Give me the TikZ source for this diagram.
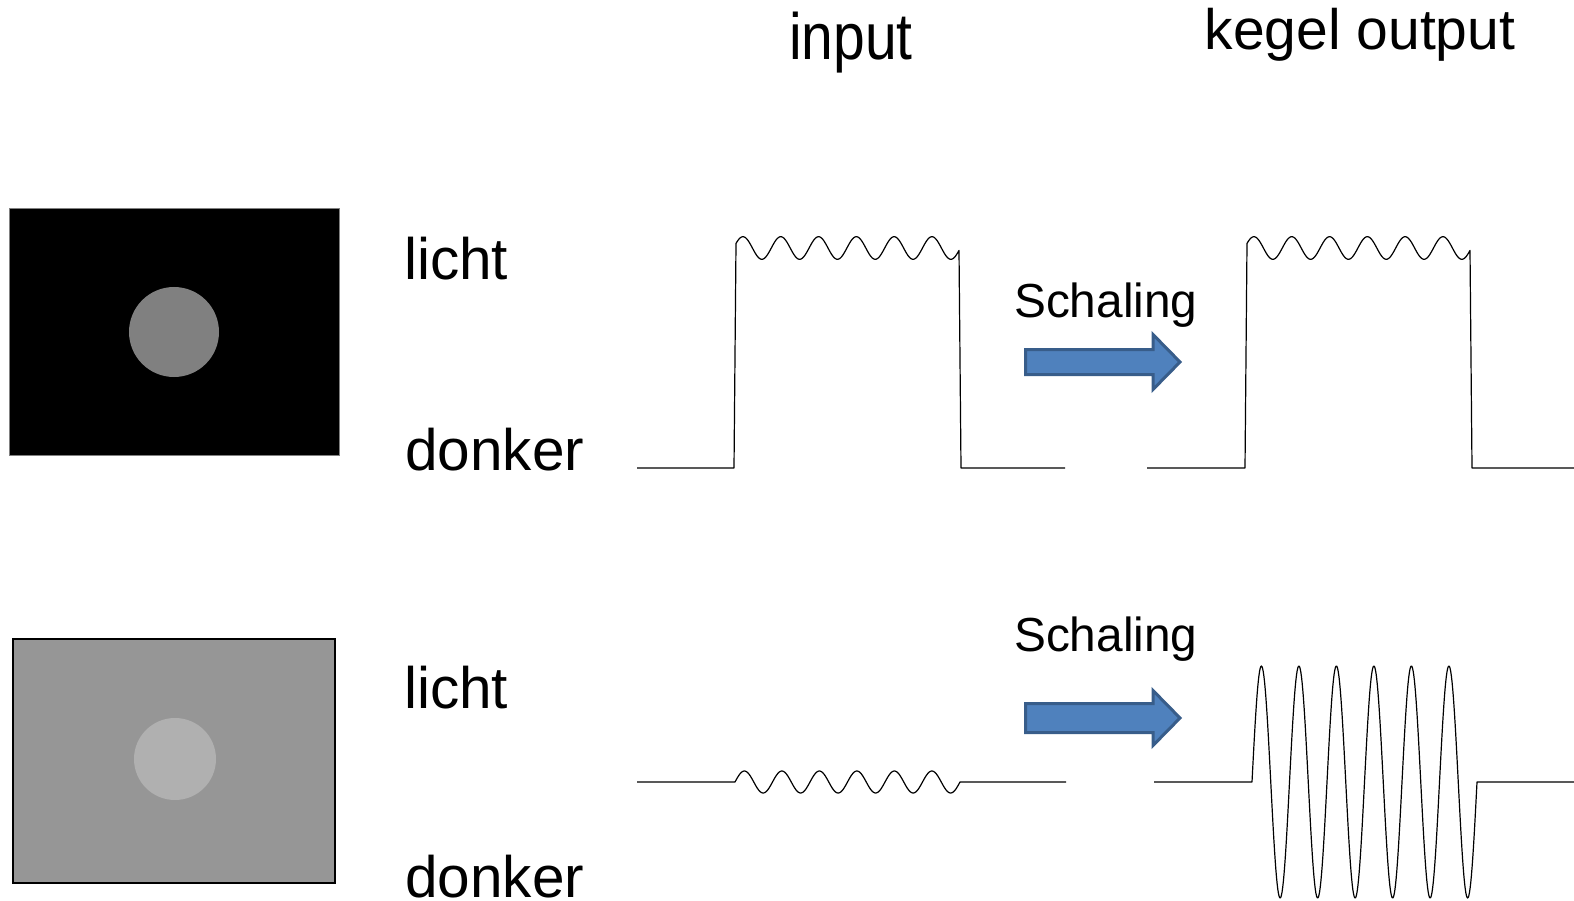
\documentclass[tikz,border=0pt]{standalone}
\usepackage{graphicx}
\usepackage{fontspec}
\setmainfont{Liberation Sans}
\definecolor{arrowfill}{HTML}{4F81BD}
\definecolor{arrowline}{HTML}{385D8A}
\definecolor{darkcircle}{HTML}{808080}
\definecolor{greybg}{HTML}{969696}
\definecolor{lightcircle}{HTML}{B0B0B0}
\begin{document}
\begin{tikzpicture}[x=1pt,y=-1pt,
  lbl/.style={inner sep=0pt, font=\fontsize{58.5}{60}\selectfont, anchor=base west},
  head/.style={inner sep=0pt, font=\fontsize{57}{60}\selectfont, anchor=base},
  sch/.style={inner sep=0pt, font=\fontsize{47.8}{50}\selectfont, anchor=base west},
  wave/.style={line width=1.2pt, black, line join=round},
  bigarrow/.style={fill=arrowfill, draw=arrowline, line width=3pt, line join=miter}]
\useasboundingbox (0,0) rectangle (1574,901);

% images
\filldraw[fill=black, draw=darkcircle, line width=0.8pt] (9,208) rectangle (339,455);
\fill[darkcircle] (174,332) circle[radius=45pt];
\filldraw[fill=greybg, draw=black, line width=2pt] (13,639) rectangle (335,883);
\fill[lightcircle] (175,759) circle[radius=41pt];

% labels
\node[head] (tin) at (851,60) {\scalebox{1}[1.15]{input}};
\node[head] (tout) at (1360,50) {kegel output};
\node[lbl] (licht1) at (404,280) {licht};
\node[lbl] (donker1) at (405,470) {donker};
\node[lbl] (licht2) at (404,708) {licht};
\node[lbl] (donker2) at (405,897) {donker};
\node[sch] (sch1) at (1014,317) {Schaling};
\node[sch] (sch2) at (1014,651) {Schaling};

% arrows
\draw[bigarrow] (1025.5,349.5) -- (1153,349.5) -- (1153,334.5) -- (1180,362) -- (1153,389.5) -- (1153,374.5) -- (1025.5,374.5) -- cycle;
\draw[bigarrow] (1025.5,703.5) -- (1153,703.5) -- (1153,690.5) -- (1180,718) -- (1153,745.5) -- (1153,732.5) -- (1025.5,732.5) -- cycle;

% top input waveform
\draw[wave] (637,468) -- (734,468)
  -- plot[domain=23.8:2147.6, samples=240] ({733.5+\x/360*37.8},{248-11.3*sin(\x)})
  -- (961,468) -- (1065,468);
% top output waveform
\draw[wave] (1147,468) -- (1245,468)
  -- plot[domain=23.8:2147.6, samples=240] ({1244.5+\x/360*37.8},{248-11.3*sin(\x)})
  -- (1472,468) -- (1574,468);
% bottom input waveform
\draw[wave] (637,782) -- (735,782)
  -- plot[domain=0:2160, samples=240] ({735+\x/360*37.5},{782-11*sin(\x)})
  -- (1066,782);
% bottom output waveform
\draw[wave] (1154,782) -- (1252,782)
  -- plot[domain=0:2160, samples=360] ({1252+\x/360*37.5},{782-116*sin(\x)})
  -- (1574,782);
\end{tikzpicture}
\end{document}
